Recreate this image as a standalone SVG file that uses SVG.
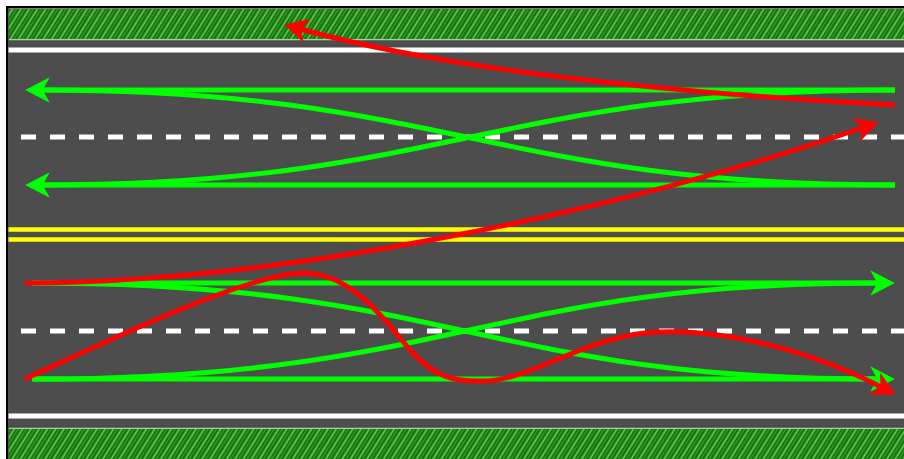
<svg xmlns="http://www.w3.org/2000/svg" width="904" height="459" viewBox="0 0 904 459">
  <defs>
    <style>
      .edge { stroke: #ffffff; stroke-width: 5; fill: none; }
      .dash { stroke: #ffffff; stroke-width: 5; fill: none; stroke-dasharray: 15 14; }
      .yellow { stroke: #ffff00; stroke-width: 4.5; fill: none; }
      .green { stroke: #00ff00; stroke-width: 5; fill: none; stroke-linecap: butt; }
      .red { stroke: #ff0000; stroke-width: 5; fill: none; stroke-linecap: butt; }
      .verge { stroke: #a8cfa0; stroke-width: 1.2; fill: none; }
    </style>
    <!-- hatched grass strip -->
    <pattern id="grass" patternUnits="userSpaceOnUse" width="7" height="20" patternTransform="rotate(32)">
      <rect width="7" height="20" fill="#0a6a0a"/>
      <rect x="0.6" width="1.8" height="20" fill="#6ad04e"/>
      <rect x="4.2" width="1.2" height="20" fill="#44a636"/>
    </pattern>
    <marker id="arrowGreen" markerUnits="userSpaceOnUse" viewBox="0 -13 24 26" markerWidth="24" markerHeight="26" refX="7.5" refY="0" orient="auto" overflow="visible">
      <path d="M0,-12.5 L24,0 L0,12.5 L7,0 Z" fill="#00ff00"/>
    </marker>
    <marker id="arrowRed" markerUnits="userSpaceOnUse" viewBox="0 -13 24 26" markerWidth="24" markerHeight="26" refX="7.5" refY="0" orient="auto" overflow="visible">
      <path d="M0,-12.5 L24,0 L0,12.5 L7,0 Z" fill="#ff0000"/>
    </marker>
  </defs>

  <rect width="904" height="459" fill="#ffffff"/>

  <!-- road surface and verges -->
  <g id="road">
    <rect x="8.5" y="9" width="900" height="31" fill="url(#grass)"/>
    <rect x="8.5" y="40" width="900" height="388" fill="#4d4d4d"/>
    <rect x="8.5" y="428" width="900" height="40" fill="url(#grass)"/>
    <line class="verge" x1="8.5" y1="39.6" x2="904" y2="39.6"/>
    <line class="verge" x1="8.5" y1="428.4" x2="904" y2="428.4"/>
    <rect x="7.25" y="7.25" width="1000" height="1000" fill="none" stroke="#000000" stroke-width="2.5"/>
  </g>

  <!-- lane markings -->
  <g id="markings">
    <line class="edge" x1="8.5" y1="50" x2="904" y2="50"/>
    <line class="edge" x1="8.5" y1="416" x2="904" y2="416"/>
    <line class="dash" x1="21" y1="137" x2="904" y2="137"/>
    <line class="dash" x1="21" y1="331" x2="904" y2="331"/>
    <line class="yellow" x1="8.5" y1="229.5" x2="904" y2="229.5"/>
    <line class="yellow" x1="8.5" y1="239.5" x2="904" y2="239.5"/>
  </g>

  <!-- permitted movements -->
  <g id="connectors-green">
    <path class="green" d="M895,90 H42" marker-end="url(#arrowGreen)"/>
    <path class="green" d="M895,185 H42" marker-end="url(#arrowGreen)"/>
    <path class="green" d="M895,90 C495,90 442,185 42,185" marker-end="url(#arrowGreen)"/>
    <path class="green" d="M895,185 C495,185 442,90 42,90" marker-end="url(#arrowGreen)"/>
    <path class="green" d="M32,283 H878" marker-end="url(#arrowGreen)"/>
    <path class="green" d="M32,379 H878" marker-end="url(#arrowGreen)"/>
    <path class="green" d="M32,283 C452,283 485,379 878,379" marker-end="url(#arrowGreen)"/>
    <path class="green" d="M32,379 C452,379 485,283 878,283" marker-end="url(#arrowGreen)"/>
  </g>

  <!-- prohibited movements -->
  <g id="connectors-red">
    <path class="red" d="M895,105 Q500,84 300,29" marker-end="url(#arrowRed)"/>
    <path class="red" d="M25,283 C300,282 643,204 863,127.5" marker-end="url(#arrowRed)"/>
    <path class="red" d="M25,379 C130,330 255,272 305,273 C352,274 385,320 410,350 C435,378 455,382 485,381 C530,380 580,340 645,333 C720,326 811,351 881,387" marker-end="url(#arrowRed)"/>
  </g>
</svg>
